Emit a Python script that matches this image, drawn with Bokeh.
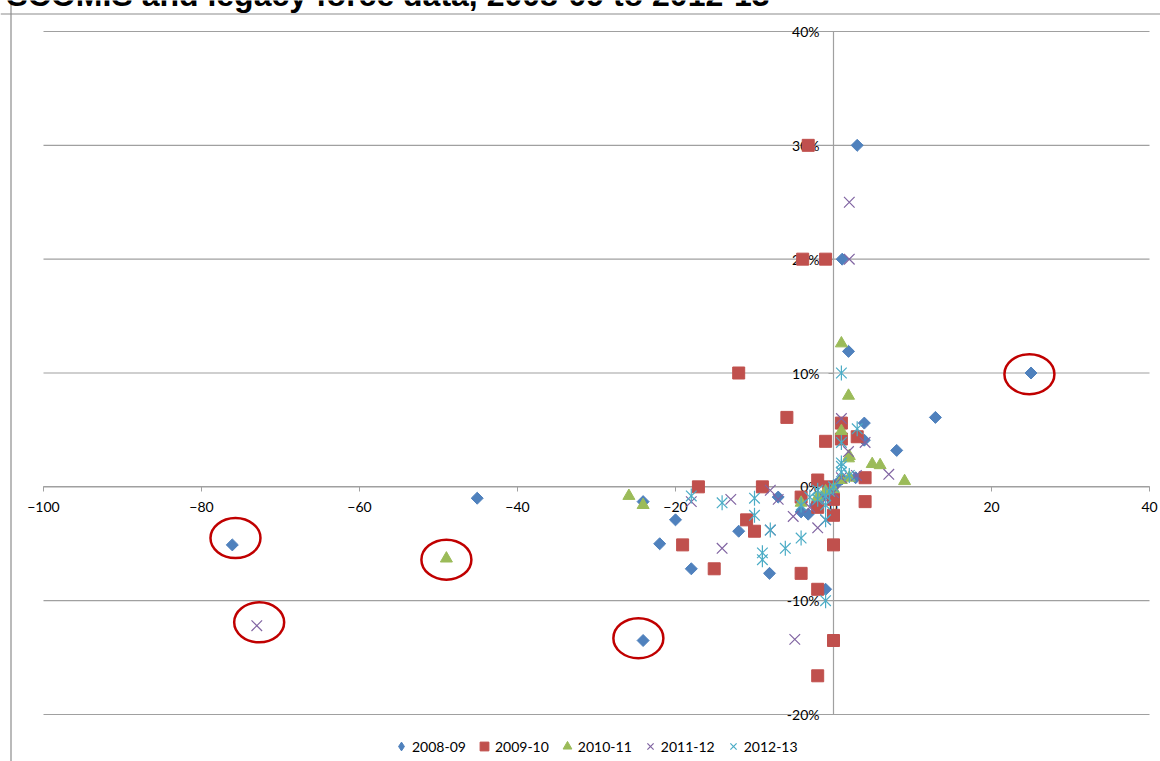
import math
from bokeh.plotting import figure
from bokeh.models import (LinearAxis, FixedTicker, PrintfTickFormatter, Span, Label,
                          Legend, LegendItem)
from bokeh.embed import file_html
from bokeh.resources import INLINE

# ---------------- data ----------------
title_text = "SCOMIS and legacy force data, 2008-09 to 2012-13"
series_names = ["2008-09", "2009-10", "2010-11", "2011-12", "2012-13"]
x_ticks = [-100, -80, -60, -40, -20, 0, 20, 40]
y_ticks = [-20, -10, 0, 10, 20, 30, 40]

x_0809 = [3.0, 25.0, 12.9, 8.0, 1.9, 3.9, 3.9, 1.1, -45.1, -76.1, -24.1, -20.0, -22.0, -18.0,
          -24.1, -12.0, -8.1, -7.0, -4.1, -3.2, -1.0, -2.3, -1.6, -0.6, 0.3, 1.1, 2.8]
y_0809 = [30.0, 10.0, 6.1, 3.2, 11.9, 5.6, 4.1, 20.0, -1.0, -5.1, -1.3, -2.9, -5.0, -7.2,
          -13.5, -3.9, -7.6, -0.9, -2.2, -2.4, -9.0, -1.6, -1.0, -0.3, 0.2, 0.7, 0.8]

x_0910 = [-3.2, -3.9, -1.0, -12.0, -5.9, -1.0, 1.0, 3.0, 1.0, -17.1, -9.0, 4.0, 4.0, -19.1,
          -15.1, -11.0, -10.0, -4.1, -2.0, -4.1, -2.0, 0.0, -2.0, 0.0, 0.0, 0.0, -2.0, -0.6]
y_0910 = [30.0, 20.0, 20.0, 10.0, 6.1, 4.0, 5.6, 4.4, 4.2, 0.0, 0.0, 0.8, -1.3, -5.1,
          -7.2, -2.9, -3.9, -7.6, 0.6, -0.9, -9.0, -13.5, -16.6, -5.1, -2.5, -1.1, -1.8, 0.0]

x_1011 = [1.0, 1.9, 1.0, 2.0, 1.9, 4.9, 5.9, 9.0, -25.9, -24.1, -49.0, -4.1, -2.0, -1.0, 0.0, 2.0, 1.0]
y_1011 = [12.6, 8.0, 4.9, 2.7, 2.5, 2.0, 1.9, 0.5, -0.8, -1.6, -6.3, -1.4, -0.9, -0.4, -0.2, 0.8, 0.6]

x_1112 = [2.0, 2.0, 1.0, 4.0, 1.9, 7.0, 2.9, 1.0, -18.0, -13.0, -14.1, -8.0, -7.0, -8.0, -5.1,
          -4.9, -2.0, -1.0, -3.0, -73.0, -1.0, 0.0]
y_1112 = [25.0, 20.0, 6.0, 3.9, 3.1, 1.1, 1.0, 0.8, -1.3, -1.1, -5.4, -0.3, -1.1, -3.8, -2.6,
          -13.4, -3.6, -2.9, -1.8, -12.2, -1.1, -0.5]

x_1213 = [1.0, 3.0, 1.0, 1.0, 1.0, 2.0, 1.0, -18.0, -14.1, -10.0, -10.0, -8.0, -9.0, -9.0, -6.1,
          -4.1, -4.1, -3.0, -2.0, -1.0, -1.0, -1.0, -1.0, 0.0, -0.5, -2.0]
y_1213 = [10.0, 5.1, 3.9, 2.1, 1.8, 1.0, 1.3, -0.8, -1.4, -1.0, -2.5, -3.8, -5.8, -6.4, -5.4,
          -4.5, -1.6, -0.9, -1.1, -1.6, -2.9, -10.0, -0.8, 0.0, -0.4, -0.3]

# red rings drawn around outliers (annotation centres)
ring_x = [-75.7, -49.0, -72.7, -24.7, 24.8]
ring_y = [-4.5, -6.4, -11.9, -13.3, 9.9]

# ---------------- layout constants (pixels) ----------------
W, H = 1160, 761
X0_PX, X1_PX = 43, 1149      # canvas x of x=-100 and x=40
YT_PX, YB_PX = 31, 714       # canvas y of 40% and -20%
kx = (X1_PX - X0_PX) / (x_ticks[-1] - x_ticks[0])
ky = (YB_PX - YT_PX) / (y_ticks[-1] - y_ticks[0])
x_start = x_ticks[0] - X0_PX / kx
x_end = x_start + W / kx
y_end = y_ticks[-1] + YT_PX / ky
y_start = y_end - H / ky

FONT = "Lato"
GRID = "#a0a0a0"

p = figure(width=W, height=H, x_range=(x_start, x_end), y_range=(y_start, y_end),
           output_backend="svg", toolbar_location=None,
           x_axis_location=None, y_axis_location=None,
           min_border=0, min_border_left=0, min_border_right=0,
           min_border_top=0, min_border_bottom=0)
p.xgrid.visible = False
p.ygrid.visible = False
p.outline_line_color = None
p.background_fill_color = "white"
p.border_fill_color = "white"

# chart-area border (top & left edges visible)
p.add_layout(Span(location=x_start + 10.5 / kx, dimension="height",
                  line_color="#8c8c8c", line_width=1.2))
p.add_layout(Span(location=y_end - 13.5 / ky, dimension="width",
                  line_color="#8c8c8c", line_width=1.2))

# horizontal gridlines
p.segment(x0=[x_ticks[0]] * len(y_ticks), x1=[x_ticks[-1]] * len(y_ticks),
          y0=y_ticks, y1=y_ticks, line_color=GRID, line_width=1.2, level="underlay")

# axes crossing at zero
xaxis = LinearAxis(fixed_location=0, bounds=(x_ticks[0], x_ticks[-1]),
                   ticker=FixedTicker(ticks=x_ticks, minor_ticks=[]))
yaxis = LinearAxis(fixed_location=0, bounds=(y_ticks[0], y_ticks[-1]),
                   ticker=FixedTicker(ticks=y_ticks, minor_ticks=[]),
                   formatter=PrintfTickFormatter(format="%d%%"))
for ax in (xaxis, yaxis):
    ax.axis_line_color = GRID
    ax.axis_line_width = 1.2
    ax.major_tick_line_color = GRID
    ax.major_tick_in = 0
    ax.major_tick_out = 5
    ax.minor_tick_line_color = None
    ax.major_label_text_font = FONT
    ax.major_label_text_font_size = "14px"
    ax.major_label_text_color = "#000000"
    ax.level = "underlay"
xaxis.major_label_standoff = 10
yaxis.major_label_standoff = 9
p.add_layout(xaxis, "below")
p.add_layout(yaxis, "left")

# series
r1 = p.scatter(x_0809, y_0809, marker="square", angle=math.pi / 4, size=8.5,
               fill_color="#4F81BD", line_color="#4F81BD")
r2 = p.scatter(x_0910, y_0910, marker="square", size=12,
               fill_color="#C0504D", line_color="#C0504D")
r3 = p.scatter(x_1011, y_1011, marker="triangle", size=12,
               fill_color="#9BBB59", line_color="#9BBB59")
r4 = p.scatter(x_1112, y_1112, marker="x", size=15,
               line_color="#8064A2", line_width=1.2)
r5a = p.scatter(x_1213, y_1213, marker="x", size=15,
                line_color="#4BACC6", line_width=1.2)
r5b = p.scatter(x_1213, y_1213, marker="dash", angle=math.pi / 2, size=15,
                line_color="#4BACC6", line_width=1.2)

# legend key for the diamond symbol (sits inside the first plotted diamond)
r1_key = p.scatter(x_0809[:1], y_0809[:1], marker="diamond", size=10,
                   fill_color="#4F81BD", line_color="#4F81BD")

# red rings
p.ellipse(ring_x, ring_y, width=50, height=40, width_units="screen", height_units="screen",
          fill_color=None, line_color="#C00000", line_width=2.5)

# legend
legend = Legend(items=[LegendItem(label=series_names[0], renderers=[r1_key]),
                       LegendItem(label=series_names[1], renderers=[r2]),
                       LegendItem(label=series_names[2], renderers=[r3]),
                       LegendItem(label=series_names[3], renderers=[r4]),
                       LegendItem(label=series_names[4], renderers=[r5a])],
                orientation="horizontal", location=(390, 3),
                glyph_width=22, glyph_height=24, label_standoff=0, spacing=7,
                padding=0, margin=0, border_line_color=None, background_fill_alpha=0,
                label_text_font=FONT, label_text_font_size="14px",
                label_text_color="#000000")
p.add_layout(legend, "center")

# title (cut off at the top, as in the original)
p.add_layout(Label(x=x_start + 6 / kx, y=y_end + 6 / ky, text=title_text,
                   text_font="Liberation Sans", text_font_size="32px",
                   text_font_style="bold", text_baseline="alphabetic", text_color="#000000"))

open("out.html", "w").write(file_html(p, INLINE))
